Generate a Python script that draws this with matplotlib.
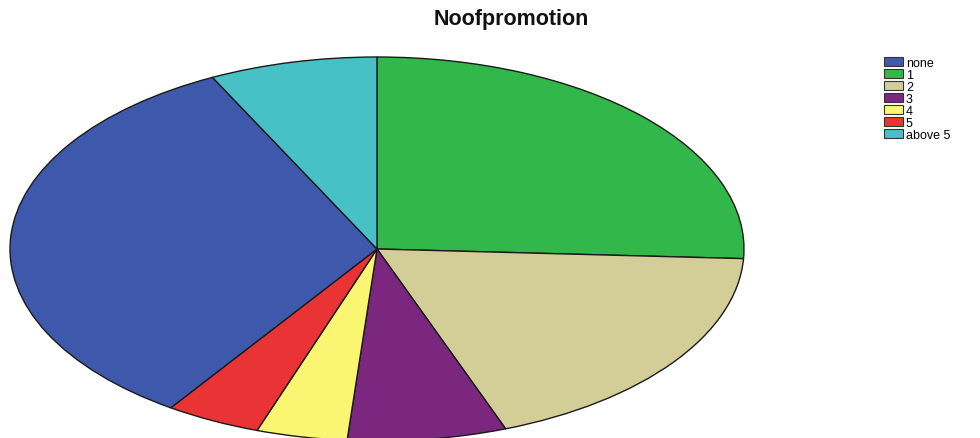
import matplotlib.pyplot as plt
from matplotlib.patches import Patch

plt.rcParams['font.family'] = ['Liberation Sans', 'DejaVu Sans']

# legend order
labels = ['none', '1', '2', '3', '4', '5', 'above 5']
shares = [33.1, 25.8, 18.5, 7.0, 4.0, 4.2, 7.4]
colors = ['#3E58AC', '#31B74A', '#D3CE97', '#7B277F', '#FAF671', '#EA3335', '#47C1C5']

# order the slices are laid out clockwise from 12 o'clock
draw_order = ['1', '2', '3', '4', '5', 'none', 'above 5']

vals = [shares[labels.index(k)] for k in draw_order]
cols = [colors[labels.index(k)] for k in draw_order]

fig = plt.figure(figsize=(9.8, 4.39), dpi=100)
# stretched (elliptical) pie: axes box in pixels x 10..744, y 58..442 from top
ax = fig.add_axes([10/980, -3/439, 734/980, 384/439])
ax.pie(vals, colors=cols, startangle=90, counterclock=False,
       wedgeprops=dict(edgecolor='#1a1a1a', linewidth=1.0))
ax.set_aspect('auto')
ax.set_xlim(-1, 1)
ax.set_ylim(-1, 1)
ax.axis('off')

fig.text(511/980, 1 - 19/439, 'Noofpromotion', ha='center', va='center',
         fontsize=15.5, fontweight='bold', color='#111111')

handles = [Patch(facecolor=c, edgecolor='#333333', linewidth=0.8) for c in colors]
fig.legend(handles, labels, loc='upper left',
           bbox_to_anchor=(884/980, 1 - 58/439), frameon=False,
           fontsize=9, handlelength=1.5, handleheight=0.7,
           labelspacing=0.0, handletextpad=0.25, borderpad=0, borderaxespad=0)

fig.savefig('out.png', dpi=100)
